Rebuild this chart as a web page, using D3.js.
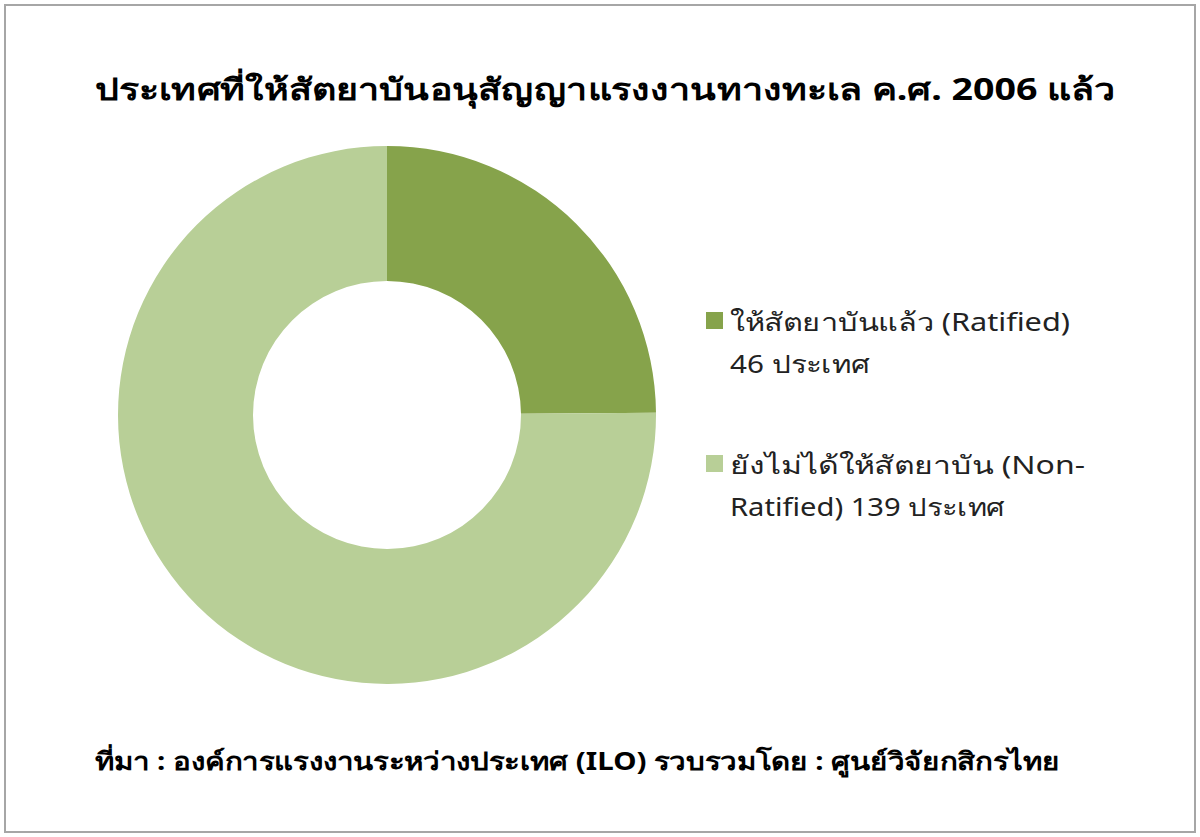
<!DOCTYPE html>
<html><head><meta charset="utf-8">
<script src="https://cdn.jsdelivr.net/npm/d3@7"></script>
<style>body{margin:0;background:#fff}</style>
</head><body>
<svg id="chart" width="1200" height="837"></svg>
<script>
// data
categories = ["ให้สัตยาบันแล้ว (Ratified)", "ยังไม่ได้ให้สัตยาบัน (Non-Ratified)"];
values = [46, 139];
legendLines = [["ให้สัตยาบันแล้ว (Ratified)", "46 ประเทศ"],
               ["ยังไม่ได้ให้สัตยาบัน (Non-", "Ratified) 139 ประเทศ"]];
legendWidths = [[340, 140], [355, 275]];
colors = ["#86a34b", "#b8cf97"];

svg = d3.select("#chart");
font = "'Noto Sans', 'DejaVu Sans', sans-serif";

svg.append("rect")
  .attr("x", 5).attr("y", 5).attr("width", 1190).attr("height", 827)
  .attr("fill", "#fff").attr("stroke", "#a6a6a6").attr("stroke-width", 2);

svg.append("text")
  .attr("x", 95).attr("y", 100)
  .attr("textLength", 1020).attr("lengthAdjust", "spacingAndGlyphs")
  .style("font-family", font).style("font-weight", "bold").style("font-size", "30px")
  .text("ประเทศที่ให้สัตยาบันอนุสัญญาแรงงานทางทะเล ค.ศ. 2006 แล้ว");

pie = d3.pie().sort(null)(values);
arc = d3.arc().innerRadius(134).outerRadius(269);

svg.append("g")
  .attr("transform", "translate(387,415)")
  .selectAll("path")
  .data(pie)
  .join("path")
  .attr("d", arc)
  .attr("fill", (d, i) => colors[i]);

legend = svg.selectAll(".leg")
  .data(legendLines)
  .join("g")
  .attr("transform", (d, i) => "translate(706," + (312 + i * 143) + ")");

legend.append("rect")
  .attr("width", 17).attr("height", 17)
  .attr("fill", (d, i) => colors[i]);

legend.each(function(d, i) {
  d3.select(this).selectAll("text")
    .data(d)
    .join("text")
    .attr("x", 24).attr("y", (t, j) => 19 + j * 42)
    .attr("textLength", (t, j) => legendWidths[i][j]).attr("lengthAdjust", "spacingAndGlyphs")
    .style("font-family", font).style("font-size", "25px").attr("fill", "#222")
    .text(t => t);
});

svg.append("text")
  .attr("x", 95).attr("y", 770)
  .attr("textLength", 965).attr("lengthAdjust", "spacingAndGlyphs")
  .style("font-family", font).style("font-weight", "bold").style("font-size", "25px")
  .text("ที่มา : องค์การแรงงานระหว่างประเทศ (ILO) รวบรวมโดย : ศูนย์วิจัยกสิกรไทย");
</script>
</body></html>
